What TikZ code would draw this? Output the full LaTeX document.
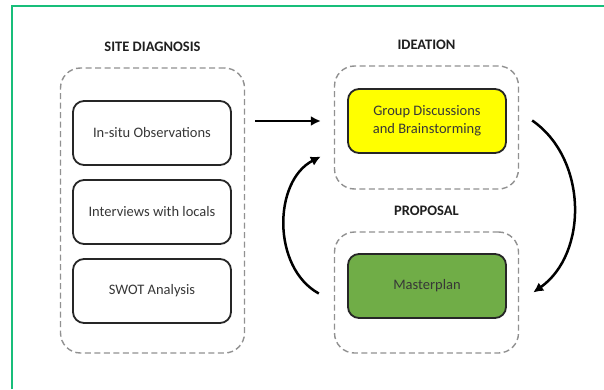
\documentclass[tikz,border=0pt]{standalone}
\usepackage{fontspec}
\setmainfont{Carlito}
\usetikzlibrary{arrows.meta, positioning}

\definecolor{framegreen}{RGB}{24,190,122}
\definecolor{stagegray}{RGB}{145,145,145}
\definecolor{ideayellow}{RGB}{255,255,0}
\definecolor{plangreen}{RGB}{112,173,71}
\definecolor{inktext}{RGB}{55,55,55}

\begin{document}
\begin{tikzpicture}[x=1pt, y=1pt,
        stage/.style={draw=stagegray, dash pattern=on 6pt off 3.5pt,
            line width=1.4pt, rounded corners=20pt, inner sep=0pt},
        task/.style={draw=black!85, line width=1.8pt, rounded corners=11pt,
            minimum width=158pt, minimum height=64pt, align=center,
            text=inktext, font=\fontsize{14.5}{18}\selectfont},
        heading/.style={text=black!88, font=\bfseries\fontsize{14.5}{18}\selectfont},
        flow/.style={-{Latex[length=10pt, width=10pt]}, line width=2.5pt}]
    \useasboundingbox (0, 0) rectangle (604, 389);
    \draw[framegreen, line width=2pt] (11.5, 0) -- (11.5, 382.5) -- (604, 382.5);

    % site diagnosis column
    \node[stage, minimum width=184pt, minimum height=285pt] (site) at (152.5, 178.5) {};
    \node[heading, above=12pt of site] (siteTitle) {SITE DIAGNOSIS};
    \node[task] (obs) at (152, 256) {In-situ Observations};
    \node[task] (interviews) at (152, 177) {Interviews with locals};
    \node[task] (swot) at (152, 98) {SWOT Analysis};

    % ideation and proposal loop
    \node[stage, minimum width=184pt, minimum height=123pt] (ideabox) at (426.5, 261.5) {};
    \node[heading, above=12pt of ideabox] (ideaTitle) {IDEATION};
    \node[task, fill=ideayellow] (idea) at (427, 268)
        {Group Discussions\\and Brainstorming};

    \node[stage, minimum width=184pt, minimum height=121pt] (propbox) at (426.5, 96.5) {};
    \node[heading, above=12pt of propbox] (propTitle) {PROPOSAL};
    \node[task, fill=plangreen] (plan) at (427, 103) {Masterplan};

    \draw[flow, shorten <=10pt, shorten >=13pt] (site.east |- idea) -- (ideabox.west |- idea);
    \draw[flow] ([xshift=13pt, yshift=7pt]ideabox.east)
        to[bend left=55] ([xshift=14pt]propbox.east);
    \draw[flow] ([xshift=-15pt, yshift=-1pt]propbox.west)
        to[bend left=62] ([xshift=-13pt, yshift=-29pt]ideabox.west);
\end{tikzpicture}
\end{document}
